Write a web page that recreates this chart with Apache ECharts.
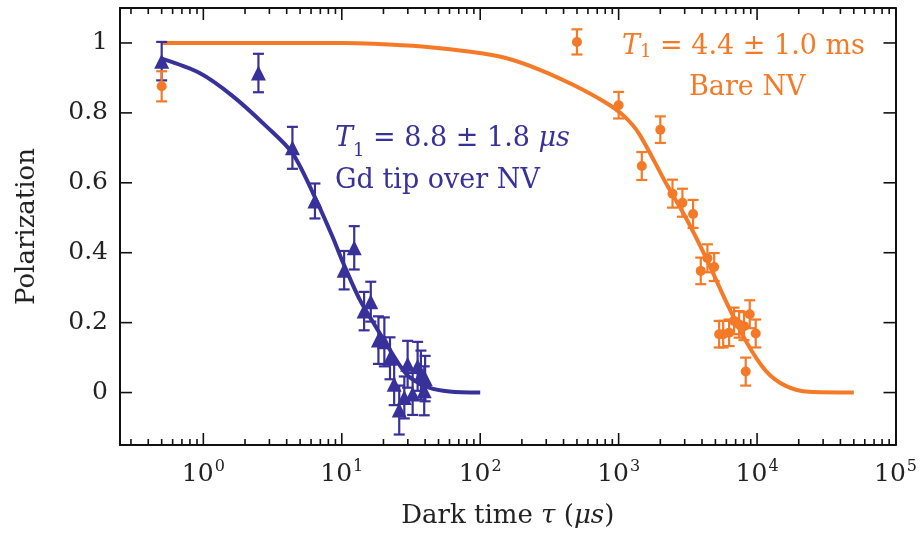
<!DOCTYPE html>
<html>
<head>
<meta charset="utf-8">
<title>T1 relaxation</title>
<script src="https://cdn.jsdelivr.net/npm/echarts@6/dist/echarts.min.js"></script>
<style>
  html, body { margin: 0; padding: 0; background: #fff; }
  #content { width: 920px; height: 540px; }
</style>
</head>
<body>
<div id="content"></div>
<script>
/* data */
// Gd tip over NV (triangles)
var gdTime = [0.5, 2.5, 4.4, 6.4, 10.4, 12.3, 14.5, 16.2, 18.4, 20.3, 22.3, 23.9, 26, 28.3, 29.9, 32.5, 35.3, 37.3, 39.4, 40];
var gdPol  = [0.948, 0.914, 0.70, 0.548, 0.35, 0.414, 0.233, 0.26, 0.15, 0.145, 0.098, 0.024, -0.05, -0.014, 0.081, -0.004, 0.075, 0.05, 0.005, 0.04];
var gdErr  = [0.055, 0.055, 0.06, 0.05, 0.055, 0.062, 0.055, 0.057, 0.068, 0.07, 0.06, 0.06, 0.07, 0.06, 0.067, 0.06, 0.07, 0.07, 0.07, 0.065];
// Bare NV (circles)
var bareTime = [0.5, 500, 1000, 1470, 2000, 2450, 2890, 3450, 3920, 4380, 4900, 5320, 5690, 6280, 6820, 7420, 8050, 8280, 8850, 9780];
var barePol  = [0.876, 1.003, 0.822, 0.648, 0.752, 0.569, 0.543, 0.511, 0.348, 0.384, 0.359, 0.167, 0.167, 0.171, 0.205, 0.195, 0.19, 0.06, 0.224, 0.169];
var bareErr  = [0.043, 0.036, 0.038, 0.04, 0.038, 0.04, 0.04, 0.04, 0.038, 0.04, 0.04, 0.038, 0.038, 0.038, 0.038, 0.038, 0.04, 0.04, 0.04, 0.04];
// fit curves
var gdFitTime = [0.5, 0.94, 1.63, 2.84, 4.41, 6.51, 8.59, 10.2, 13.4, 16.7, 20.9, 26, 30.7, 42.8, 60, 100];
var gdFitPol  = [0.955, 0.914, 0.848, 0.762, 0.684, 0.552, 0.445, 0.372, 0.268, 0.203, 0.14, 0.08, 0.045, 0.014, 0.003, 0];
var bareFitTime = [0.5, 10, 17, 38, 88, 153, 267, 464, 809, 1100, 1406, 2190, 3060, 4270, 5940, 8280, 11560, 16100, 23700, 50000];
var bareFitPol  = [1.0, 1.0, 0.998, 0.99, 0.974, 0.957, 0.924, 0.881, 0.829, 0.79, 0.74, 0.6, 0.5, 0.386, 0.262, 0.148, 0.062, 0.019, 0.002, 0];
// axis ticks
var xMajorTicks = [1, 10, 100, 1000, 10000];
var xMinorTicks = [0.3, 0.4, 0.5, 0.6, 0.7, 0.8, 0.9,
  2, 3, 4, 5, 6, 7, 8, 9, 20, 30, 40, 50, 60, 70, 80, 90,
  200, 300, 400, 500, 600, 700, 800, 900, 2000, 3000, 4000, 5000, 6000, 7000, 8000, 9000,
  20000, 30000, 40000, 50000, 60000, 70000, 80000, 90000];
var yTicks = [0, 0.2, 0.4, 0.6, 0.8, 1];

var X_MIN = 0.25, X_MAX = 100000, Y_MIN = -0.15, Y_MAX = 1.1;
var BLUE = '#38319a', ORANGE = '#f57a28';
var FONT = 'DejaVu Serif';

function zip(a, b, c) {
  return a.map(function (v, i) { return c ? [v, b[i], c[i]] : [v, b[i]]; });
}

/* error bars */
function errorBarRender(params, api) {
  var x = api.value(0), y = api.value(1), e = api.value(2);
  var lo = api.coord([x, y - e]), hi = api.coord([x, y + e]);
  var w = 5.5;
  var st = { stroke: api.visual('color'), lineWidth: 2.2 };
  return {
    type: 'group',
    children: [
      { type: 'line', shape: { x1: lo[0], y1: lo[1], x2: hi[0], y2: hi[1] }, style: st },
      { type: 'line', shape: { x1: lo[0] - w, y1: lo[1], x2: lo[0] + w, y2: lo[1] }, style: st },
      { type: 'line', shape: { x1: hi[0] - w, y1: hi[1], x2: hi[0] + w, y2: hi[1] }, style: st }
    ]
  };
}

/* tick marks on all four sides */
function xTickRender(params, api) {
  var v = api.value(0), len = api.value(1);
  var b = api.coord([v, Y_MIN]), t = api.coord([v, Y_MAX]);
  var st = { stroke: '#111', lineWidth: 1.6 };
  return {
    type: 'group',
    children: [
      { type: 'line', shape: { x1: b[0], y1: b[1], x2: b[0], y2: b[1] - len }, style: st },
      { type: 'line', shape: { x1: t[0], y1: t[1], x2: t[0], y2: t[1] + len }, style: st }
    ]
  };
}
function yTickRender(params, api) {
  var v = api.value(1);
  var l = api.coord([X_MIN, v]), r = api.coord([X_MAX, v]);
  var st = { stroke: '#111', lineWidth: 1.6 };
  return {
    type: 'group',
    children: [
      { type: 'line', shape: { x1: l[0], y1: l[1], x2: l[0] + 12, y2: l[1] }, style: st },
      { type: 'line', shape: { x1: r[0], y1: r[1], x2: r[0] - 12, y2: r[1] }, style: st }
    ]
  };
}

var xTickData = xMajorTicks.map(function (v) { return [v, 12]; })
  .concat(xMinorTicks.map(function (v) { return [v, 6]; }));
var yTickData = yTicks.map(function (v) { return [X_MIN, v]; });

var myChart = echarts.init(document.getElementById('content'));

var axisLine = { show: true, onZero: false, lineStyle: { color: '#111', width: 2 } };
var subStyle = function (c) {
  return { fontFamily: FONT, fontSize: 18, fill: c, verticalAlign: 'bottom', padding: [12, 0, 0, 0] };
};

var option = {
  animation: false,
  backgroundColor: '#fff',
  grid: { left: 120, right: 24, top: 8, bottom: 95 },
  xAxis: [
    {
      type: 'log', logBase: 10, min: X_MIN, max: X_MAX,
      axisLine: axisLine, axisTick: { show: false }, splitLine: { show: false },
      axisLabel: {
        margin: 14, color: '#222', fontFamily: FONT, fontSize: 25,
        formatter: function (v) {
          var e = Math.log10(v);
          if (Math.abs(e - Math.round(e)) > 1e-6) return '';
          return '10{s|' + Math.round(e) + '}';
        },
        rich: { s: { fontSize: 16, fontFamily: FONT, color: '#222', verticalAlign: 'top', padding: [0, 0, 14, 1] } }
      },
      name: 'Dark time {i|τ} ({i|μs})', nameLocation: 'middle', nameGap: 58,
      nameTextStyle: {
        color: '#222', fontFamily: FONT, fontSize: 26,
        rich: { i: { fontStyle: 'italic', fontFamily: FONT, fontSize: 26, color: '#222' } }
      }
    },
    {
      type: 'log', logBase: 10, min: X_MIN, max: X_MAX, position: 'top',
      axisLine: axisLine, axisTick: { show: false }, axisLabel: { show: false }, splitLine: { show: false }
    }
  ],
  yAxis: [
    {
      type: 'value', min: Y_MIN, max: Y_MAX, interval: 0.05,
      axisLine: axisLine, axisTick: { show: false }, splitLine: { show: false },
      axisLabel: {
        margin: 12, color: '#222', fontFamily: FONT, fontSize: 25,
        formatter: function (v) {
          if (Math.abs(v * 5 - Math.round(v * 5)) > 1e-6) return '';
          return String(parseFloat(v.toFixed(1)));
        }
      },
      name: 'Polarization', nameLocation: 'middle', nameGap: 80,
      nameTextStyle: { color: '#222', fontFamily: FONT, fontSize: 26 }
    },
    {
      type: 'value', min: Y_MIN, max: Y_MAX, position: 'right',
      axisLine: axisLine, axisTick: { show: false }, axisLabel: { show: false }, splitLine: { show: false }
    }
  ],
  graphic: [
    {
      type: 'text', left: 335, top: 118,
      style: {
        text: '{i|T}{sub|1} = 8.8 ± 1.8 {i|μs}\nGd tip over NV',
        fill: BLUE, font: '27px "DejaVu Serif"', lineHeight: 42,
        rich: {
          i: { fontStyle: 'italic', fontFamily: FONT, fontSize: 27, fill: BLUE },
          sub: subStyle(BLUE)
        }
      }
    },
    {
      type: 'text', left: 622, top: 33,
      style: {
        text: '{i|T}{sub|1} = 4.4 ± 1.0 ms',
        fill: ORANGE, font: '27px "DejaVu Serif"',
        rich: {
          i: { fontStyle: 'italic', fontFamily: FONT, fontSize: 27, fill: ORANGE },
          sub: subStyle(ORANGE)
        }
      }
    },
    {
      type: 'text', left: 689, top: 74,
      style: { text: 'Bare NV', fill: ORANGE, font: '27px "DejaVu Serif"' }
    }
  ],
  series: [
    { type: 'custom', name: 'xticks', renderItem: xTickRender, data: xTickData, silent: true, z: 1 },
    { type: 'custom', name: 'yticks', renderItem: yTickRender, data: yTickData, silent: true, z: 1 },
    {
      type: 'line', name: 'Gd fit', data: zip(gdFitTime, gdFitPol), showSymbol: false, smooth: 0.3,
      lineStyle: { color: BLUE, width: 4 }, itemStyle: { color: BLUE }, z: 2
    },
    {
      type: 'line', name: 'Bare fit', data: zip(bareFitTime, bareFitPol), showSymbol: false, smooth: 0.3,
      lineStyle: { color: ORANGE, width: 4 }, itemStyle: { color: ORANGE }, z: 2
    },
    { type: 'custom', name: 'Gd err', renderItem: errorBarRender, data: zip(gdTime, gdPol, gdErr), itemStyle: { color: BLUE }, z: 3 },
    { type: 'custom', name: 'Bare err', renderItem: errorBarRender, data: zip(bareTime, barePol, bareErr), itemStyle: { color: ORANGE }, z: 3 },
    { type: 'scatter', name: 'Gd tip over NV', data: zip(gdTime, gdPol), symbol: 'triangle', symbolSize: 15, itemStyle: { color: BLUE, opacity: 1 }, z: 4 },
    { type: 'scatter', name: 'Bare NV', data: zip(bareTime, barePol), symbol: 'circle', symbolSize: 10, itemStyle: { color: ORANGE, opacity: 1 }, z: 4 }
  ]
};

myChart.setOption(option);
</script>
</body>
</html>
